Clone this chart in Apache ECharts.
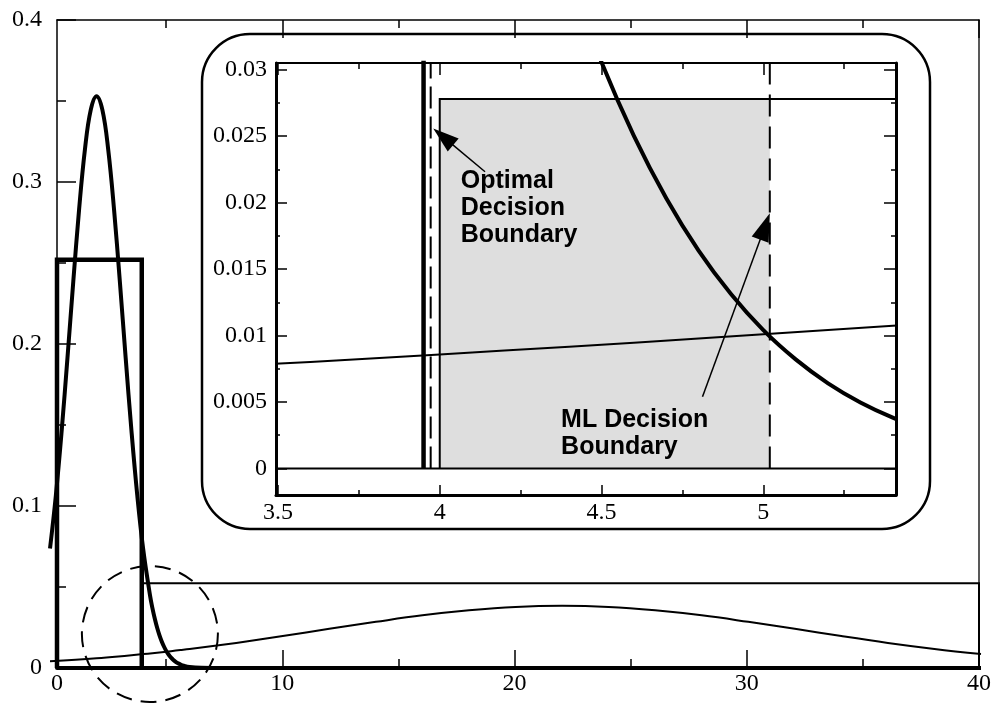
<!DOCTYPE html>
<html><head><meta charset="utf-8">
<script src="https://cdn.jsdelivr.net/npm/echarts@6/dist/echarts.min.js"></script>
<style>html,body{margin:0;padding:0;background:#fff}#c{width:994px;height:704px}</style>
</head><body><div id="c"></div>
<script>
// ---------- data ----------
// narrow (thick) density curve: x, y
const narrowX = [0,0.25,0.5,0.75,1,1.25,1.5,1.75,2,2.25,2.5,2.75,3,3.25,3.5,3.75,4,4.3,4.4,4.5,4.6,4.7,4.8,4.9,5.0,5.1,5.2,5.3,5.4,5.5,5.6,5.75,6,6.5,7,8,40];
const narrowY = [0.0737,0.1064,0.1463,0.1915,0.2386,0.2832,0.3201,0.3445,0.353,0.3445,0.3201,0.2832,0.2386,0.1915,0.1463,0.1064,0.0737,0.0445,0.0370,0.03055,0.02502,0.02033,0.01639,0.01312,0.0104,0.0082,0.0064,0.00496,0.00382,0.00292,0.00221,0.00144,0.00067,0.00013,0.00002,0,0];
// wide (thin) density curve
const wideX = [0,2,3.4,3.8,4.2,4.6,5.0,5.4,5.6,6,8,10,12,14,16,18,20,22,24,26,28,30,32,34,36,38,40];
const wideY = [0.0041,0.0060,0.00775,0.00829,0.00887,0.00946,0.01009,0.01073,0.01106,0.01175,0.0155,0.0197,0.0242,0.0285,0.0325,0.0356,0.0377,0.0384,0.0377,0.0356,0.0325,0.0285,0.0242,0.0197,0.0155,0.0118,0.0086];
// boxes (uniform densities)
const boxNarrow = [[0.3,0],[0.3,0.252],[3.95,0.252],[3.95,0]];
const boxWideMain = [[4.0,0],[4.0,0.0523],[40,0.0523],[40,0]];
const boxWideInset = [[4.0,0],[4.0,0.0278],[40,0.0278]];
const insetBaseline = [[0.3,0],[40,0]];
const optimalBoundary = 3.972;
const mlBoundary = 5.02;
const shadedRegion = [[4.0,0],[5.02,0.0278]];
// ticks
const mainXLabels = [0,10,20,30,40];
const mainXMajor = [10,20,30,40];
const mainXMinor = [5,15,25,35];
const insetXLabels = [3.5,4,4.5,5];
const insetXMinor = [3.75,4.25,4.75,5.25];
const insetYLabels = [0,0.005,0.01,0.015,0.02,0.025,0.03];
const insetYMinor = [0.0025,0.0075,0.0125,0.0175,0.0225,0.0275];
// annotations (data coordinates of the inset)
const optimalArrow = [[4.140,0.02232],[3.980,0.02558]];
const mlArrow = [[4.812,0.0054],[5.020,0.01919]];
const optimalLabelAt = [4.065,0.02262];
const mlLabelAt = [4.375,0.00465];
const lensCenter = [4.3,0.021];

// ---------- chart ----------
const zip = (xs, ys) => xs.map((x, i) => [x, ys[i]]);
const SERIF = '"Liberation Serif","Times New Roman",serif';
const BLK = '#000';

function xAx(grid, pos, min, max, o) {
  return {
    type: 'value', gridIndex: grid, position: pos, min: min, max: max,
    splitLine: {show: false},
    axisLine: {show: o.line > 0, onZero: false, lineStyle: {color: BLK, width: o.line || 1}},
    axisTick: {show: true, inside: true, length: o.len, customValues: o.ticks, lineStyle: {color: BLK, width: 1.5}},
    axisLabel: o.labels ? {show: true, customValues: o.labels, formatter: o.fmt, fontFamily: SERIF, fontSize: 24, color: BLK, margin: o.margin} : {show: false}
  };
}

// main frame starts a little right of x = 0 (as in the picture)
const mainXMin = 0.3, mainXMax = 40;
const insXMin = 3.494, insXMax = 5.41;
const insYMin = -0.002, insYMax = 0.0305;

const hiddenAxis = (grid, min, max) => ({type: 'value', gridIndex: grid, min: min, max: max, show: false,
  axisLine: {show: false, onZero: false}, splitLine: {show: false}, axisTick: {show: false}, axisLabel: {show: false}});

const xAxes = [
  xAx(0, 'bottom', mainXMin, mainXMax, {line: 4, len: 18, ticks: mainXMajor, labels: mainXLabels.map(v => Math.max(v, mainXMin)), fmt: v => String(Math.round(v)), margin: 4}),
  xAx(0, 'bottom', mainXMin, mainXMax, {line: 0, len: 9, ticks: mainXMinor}),
  xAx(0, 'top', mainXMin, mainXMax, {line: 1.5, len: 18, ticks: mainXMajor}),
  xAx(0, 'top', mainXMin, mainXMax, {line: 0, len: 8, ticks: mainXMinor}),
  xAx(1, 'bottom', insXMin, insXMax, {line: 3, len: 10, ticks: insetXLabels, labels: insetXLabels, fmt: v => String(v), margin: 6}),
  xAx(1, 'bottom', insXMin, insXMax, {line: 0, len: 5, ticks: insetXMinor}),
  xAx(1, 'top', insXMin, insXMax, {line: 2, len: 12, ticks: insetXLabels}),
  xAx(1, 'top', insXMin, insXMax, {line: 0, len: 6, ticks: insetXMinor}),
  hiddenAxis(2, 0, mainXMax)
];
const yAxes = [
  {type: 'value', gridIndex: 0, position: 'left', min: 0, max: 0.4, interval: 0.1, splitLine: {show: false},
   axisLine: {show: true, onZero: false, lineStyle: {color: BLK, width: 1.5}},
   axisTick: {show: true, inside: true, length: 19, lineStyle: {color: BLK, width: 1.5}},
   minorTick: {show: true, splitNumber: 2, length: 9, lineStyle: {color: BLK, width: 1.5}},
   axisLabel: {fontFamily: SERIF, fontSize: 24, color: BLK, margin: 15}},
  {type: 'value', gridIndex: 0, position: 'right', min: 0, max: 0.4, interval: 0.1, splitLine: {show: false},
   axisLine: {show: true, onZero: false, lineStyle: {color: '#222', width: 1.5}},
   axisTick: {show: false},
   axisLabel: {show: false}},
  {type: 'value', gridIndex: 1, position: 'left', min: insYMin, max: insYMax, splitLine: {show: false},
   axisLine: {show: true, onZero: false, lineStyle: {color: BLK, width: 3}},
   axisTick: {show: true, inside: true, length: 11, customValues: insetYLabels, lineStyle: {color: BLK, width: 1.5}},
   axisLabel: {customValues: insetYLabels, formatter: v => String(v), fontFamily: SERIF, fontSize: 24, color: BLK, margin: 9}},
  {type: 'value', gridIndex: 1, position: 'left', min: insYMin, max: insYMax, splitLine: {show: false},
   axisLine: {show: false, onZero: false},
   axisTick: {show: true, inside: true, length: 4, customValues: insetYMinor, lineStyle: {color: BLK, width: 1.5}},
   axisLabel: {show: false}},
  {type: 'value', gridIndex: 1, position: 'right', min: insYMin, max: insYMax, splitLine: {show: false},
   axisLine: {show: true, onZero: false, lineStyle: {color: BLK, width: 3}},
   axisTick: {show: true, inside: true, length: 12, customValues: insetYLabels, lineStyle: {color: BLK, width: 1.5}},
   axisLabel: {show: false}},
  {type: 'value', gridIndex: 1, position: 'right', min: insYMin, max: insYMax, splitLine: {show: false},
   axisLine: {show: false, onZero: false},
   axisTick: {show: true, inside: true, length: 5, customValues: insetYMinor, lineStyle: {color: BLK, width: 1.5}},
   axisLabel: {show: false}},
  hiddenAxis(2, 0, 0.4)
];

function ln(xi, yi, data, width, extra) {
  return Object.assign({
    type: 'line', xAxisIndex: xi, yAxisIndex: yi, data: data, showSymbol: false, symbol: 'none',
    animation: false, silent: true,
    lineStyle: {color: BLK, width: width, cap: 'butt', join: 'miter'}
  }, extra || {});
}

const narrow = zip(narrowX, narrowY);
const wide = zip(wideX, wideY);

const series = [
  // main plot (curves on a twin grid whose x axis starts at 0)
  ln(0, 0, boxWideMain, 2),
  ln(8, 6, wide, 2, {smooth: 0.4}),
  ln(0, 0, boxNarrow, 4.5),
  ln(8, 6, narrow, 4, {smooth: 0.4, lineStyle: {color: BLK, width: 4, join: 'round'}}),
  // inset
  ln(4, 2, boxWideInset, 2, {
    markArea: {silent: true, itemStyle: {color: '#dedede', borderWidth: 0},
      data: [[{coord: shadedRegion[0]}, {coord: shadedRegion[1]}]]}
  }),
  ln(4, 2, insetBaseline, 2),
  ln(4, 2, boxNarrow, 4.5),
  ln(4, 2, [[optimalBoundary, 0], [optimalBoundary, insYMax]], 2, {lineStyle: {color: BLK, width: 2, type: [22, 8]}}),
  ln(4, 2, [[mlBoundary, 0], [mlBoundary, insYMax]], 2, {lineStyle: {color: BLK, width: 2, type: [22, 10]}}),
  ln(4, 2, wide, 2, {smooth: 0.4}),
  ln(4, 2, narrow, 4, {smooth: 0.4, lineStyle: {color: BLK, width: 4, join: 'round'}})
];

// main frame: 0.3 -> 57px, 40 -> 981px; twin grid starts where x = 0 falls
const mainLeft = 57, mainRight = 13;
const pxPerUnit = (994 - mainLeft - mainRight) / (mainXMax - mainXMin);
const twinLeft = mainLeft - mainXMin * pxPerUnit;

const chart = echarts.init(document.getElementById('c'));
chart.setOption({
  animation: false,
  backgroundColor: '#fff',
  grid: [
    {left: mainLeft, right: mainRight, top: 20, bottom: 36},
    {left: 276, right: 98, top: 63, bottom: 209},
    {left: twinLeft, right: mainRight, top: 20, bottom: 36}
  ],
  xAxis: xAxes,
  yAxis: yAxes,
  series: series
});

// ---------- annotations ----------
const toInset = p => chart.convertToPixel({xAxisIndex: 4, yAxisIndex: 2}, p);
const toMain = p => chart.convertToPixel({xAxisIndex: 0, yAxisIndex: 0}, p);

function arrow(tail, tip, L, W) {
  const a = toInset(tail), b = toInset(tip);
  const dx = b[0] - a[0], dy = b[1] - a[1], d = Math.hypot(dx, dy);
  const ux = dx / d, uy = dy / d, px = -uy, py = ux;
  const bx = b[0] - ux * L, by = b[1] - uy * L;
  return [
    {type: 'line', z: 100, shape: {x1: a[0], y1: a[1], x2: bx + ux * 2, y2: by + uy * 2}, style: {stroke: BLK, lineWidth: 1.5}},
    {type: 'polygon', z: 100, shape: {points: [[b[0], b[1]], [bx + px * W / 2, by + py * W / 2], [bx - px * W / 2, by - py * W / 2]]}, style: {fill: BLK}}
  ];
}

const c = toMain(lensCenter);
const oL = toInset(optimalLabelAt), mL = toInset(mlLabelAt);
const BOLD = 'bold 25px "Liberation Sans", Arial, sans-serif';

chart.setOption({
  graphic: [
    {type: 'rect', z: 50, shape: {x: 202, y: 34, width: 728, height: 495, r: 48}, style: {fill: 'none', stroke: BLK, lineWidth: 2.5}},
    {type: 'circle', z: 50, shape: {cx: c[0], cy: c[1], r: 68}, style: {fill: 'none', stroke: BLK, lineWidth: 2, lineDash: [16, 9]}},
    {type: 'text', z: 100, x: oL[0], y: oL[1], style: {text: 'Optimal\nDecision\nBoundary', font: BOLD, lineHeight: 27, fill: BLK, align: 'left', verticalAlign: 'top'}},
    {type: 'text', z: 100, x: mL[0], y: mL[1], style: {text: 'ML Decision\nBoundary', font: BOLD, lineHeight: 27, fill: BLK, align: 'left', verticalAlign: 'top'}}
  ].concat(arrow(optimalArrow[0], optimalArrow[1], 26, 17), arrow(mlArrow[0], mlArrow[1], 28, 18))
});
</script>
</body></html>
